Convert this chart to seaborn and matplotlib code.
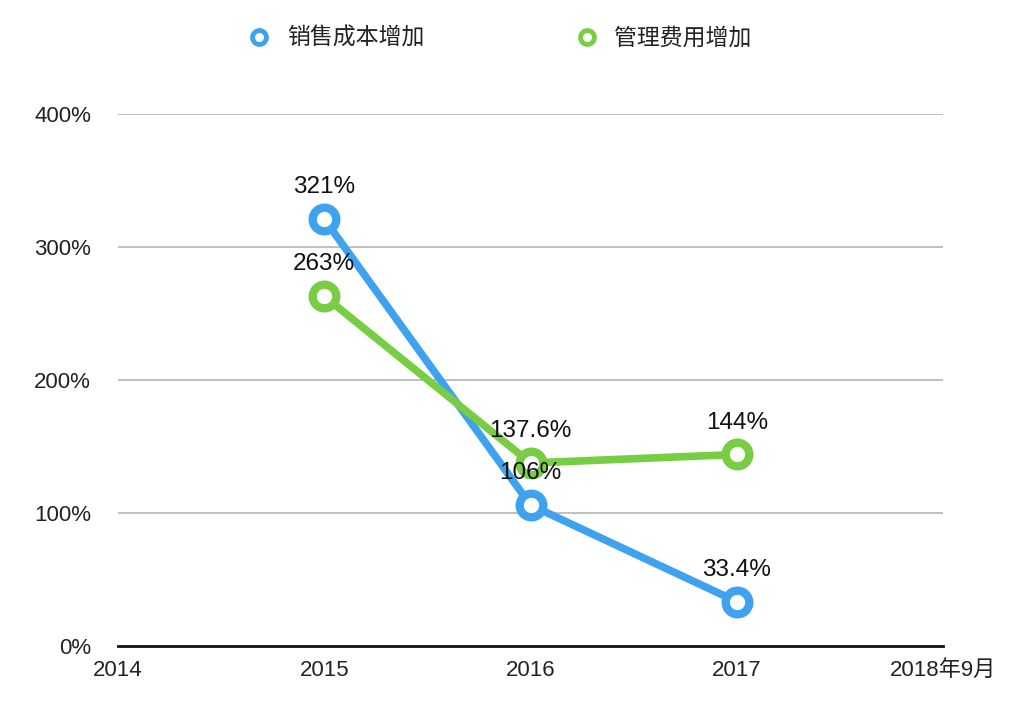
import matplotlib
matplotlib.use("Agg")
import matplotlib.pyplot as plt
from matplotlib.lines import Line2D
import seaborn as sns
import pandas as pd

# ---- data ----
x_labels = ["2014", "2015", "2016", "2017", "2018年9月"]
years_idx = [1, 2, 3]
sales_cost = [321, 106, 33.4]
mgmt_cost = [263, 137.6, 144]
sales_labels = ["321%", "106%", "33.4%"]
mgmt_labels = ["263%", "137.6%", "144%"]
series_names = ["销售成本增加", "管理费用增加"]
y_ticks = [0, 100, 200, 300, 400]

blue = "#3FA2EE"
green = "#78CD45"

sns.set_theme(style="white")
plt.rcParams["font.family"] = ["Liberation Sans", "Noto Sans CJK SC", "DejaVu Sans"]

fig = plt.figure(figsize=(10.24, 7.10), dpi=100)
ax = fig.add_axes([118/1024, 1-646/710, (943-118)/1024, (646-114)/710])

df = pd.DataFrame({
    "x": years_idx * 2,
    "value": sales_cost + mgmt_cost,
    "series": [series_names[0]] * 3 + [series_names[1]] * 3,
})

for name, col in zip(series_names, [blue, green]):
    sub = df[df["series"] == name]
    sns.lineplot(data=sub, x="x", y="value", ax=ax, color=col, linewidth=5.5,
                 marker="o", markersize=17, markerfacecolor="white",
                 markeredgecolor=col, markeredgewidth=6, legend=False, zorder=3)

# data labels
for xi, v, lab in zip(years_idx, sales_cost, sales_labels):
    ax.annotate(lab, (xi, v), xytext=(0, 15), textcoords="offset points",
                ha="center", va="bottom", fontsize=17.5, color="#111111", zorder=5)
for xi, v, lab in zip(years_idx, mgmt_cost, mgmt_labels):
    ax.annotate(lab, (xi, v), xytext=(0, 15), textcoords="offset points",
                ha="center", va="bottom", fontsize=17.5, color="#111111", zorder=5)

ax.set_xlim(0, 4)
ax.set_ylim(0, 400)
ax.set_yticks(y_ticks)
ax.set_yticklabels([f"{t}%" for t in y_ticks], fontsize=16, color="#222222")
ax.set_xticks(range(len(x_labels)))
ax.set_xticklabels(x_labels, fontsize=16, color="#222222")
ax.tick_params(axis="both", length=0)
ax.tick_params(axis="y", pad=19.5)
ax.tick_params(axis="x", pad=10)
ax.set_xlabel("")
ax.set_ylabel("")
for t in [100, 200, 300, 400]:
    ax.axhline(t, color="#BBBBBB", linewidth=1.3, zorder=1)
for s in ["left", "right", "top"]:
    ax.spines[s].set_visible(False)
ax.spines["bottom"].set_color("#111111")
ax.spines["bottom"].set_linewidth(2)

handles = [Line2D([], [], linestyle="none", marker="o", markersize=10,
                  markerfacecolor="white", markeredgecolor=c, markeredgewidth=3.5)
           for c in [blue, green]]
fig.legend(handles, series_names, loc="center", bbox_to_anchor=(0.487, 0.946),
           ncol=2, frameon=False, fontsize=16.5, columnspacing=6.5, handlelength=1.2,
           handletextpad=0.6, labelcolor="#222222")

fig.savefig("out.png", dpi=100)
